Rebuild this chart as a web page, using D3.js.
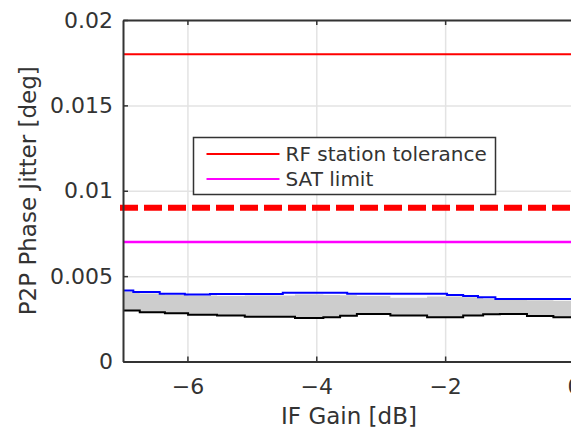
<!DOCTYPE html>
<html lang="en">
<head>
    <meta charset="UTF-8">
    <title>P2P Phase Jitter</title>
    <script src="https://cdn.jsdelivr.net/npm/d3@7/dist/d3.min.js"></script>
    <style>
        body { margin: 0; background: #fff; }
        text { font-family: "DejaVu Sans", sans-serif; fill: #333; }
    </style>
</head>
<body>
<svg id="main" width="571" height="430"></svg>
<script>
    // --- data (y in deg) ---
    let xTicks = [-6, -4, -2, 0];
    let yTicks = [0, 0.005, 0.01, 0.015, 0.02];
    let yTickLabels = ['0', '0.005', '0.01', '0.015', '0.02'];

    let rfTolerance = 0.018;     // solid red
    let rfDashed = 0.009;        // dashed red
    let satLimit = 0.007;        // magenta

    // blue upper envelope
    let blueGain = [-7.0, -6.84, -6.43, -6.04, -5.65, -4.52, -3.52, -1.97, -1.72, -1.49, -1.22, 0];
    let blueJitter = [0.00416, 0.00407, 0.00397, 0.00393, 0.00395, 0.00403, 0.00397, 0.00389, 0.00384, 0.00376, 0.00366, 0.00364];

    // black lower envelope + grey band top
    let blackGain = [-7.0, -6.74, -6.35, -5.99, -5.54, -5.11, -4.33, -3.89, -3.63, -3.37, -2.85, -2.28, -1.72, -1.41, -1.15, -0.73, -0.32, 0];
    let blackJitter = [0.00298, 0.00288, 0.00282, 0.00274, 0.00270, 0.00262, 0.00255, 0.00259, 0.00268, 0.00278, 0.00270, 0.00259, 0.00270, 0.00276, 0.00278, 0.00266, 0.00259, 0.00259];
    let bandTop = [0.00408, 0.00398, 0.00390, 0.00386, 0.00384, 0.00386, 0.00392, 0.00390, 0.00388, 0.00384, 0.00374, 0.00380, 0.00376, 0.00368, 0.00360, 0.00358, 0.00356, 0.00356];

    let legendItems = [
        {name: 'RF station tolerance', color: '#ff0000'},
        {name: 'SAT limit', color: '#ff00ff'}
    ];

    let svg = d3.select('svg#main');
    let plotLeft = 123, plotRight = 574, plotTop = 20, plotBottom = 361.5;

    let x = d3.scaleLinear().domain([-7, 0]).range([plotLeft, plotRight]);
    let y = d3.scaleLinear().domain([0, 0.02]).range([plotBottom, plotTop]);

    // grid
    svg.append('g')
        .attr('transform', 'translate(0,' + plotBottom + ')')
        .call(d3.axisBottom(x).tickValues(xTicks).tickSize(-(plotBottom - plotTop)).tickFormat(''))
        .call(g => g.select('.domain').remove())
        .selectAll('line').attr('stroke', '#e3e3e3').attr('stroke-width', 1.5);
    svg.append('g')
        .attr('transform', 'translate(' + plotLeft + ',0)')
        .call(d3.axisLeft(y).tickValues(yTicks).tickSize(-(plotRight - plotLeft)).tickFormat(''))
        .call(g => g.select('.domain').remove())
        .selectAll('line').attr('stroke', '#e3e3e3').attr('stroke-width', 1.5);

    // grey band
    let band = blackGain.map((g, i) => ({g: g, lo: blackJitter[i], hi: bandTop[i]}));
    svg.append('path')
        .datum(band)
        .attr('fill', '#cdcdcd')
        .attr('d', d3.area().curve(d3.curveStepAfter)
            .x(d => x(d.g)).y0(d => y(d.lo)).y1(d => y(d.hi)));

    let stepLine = d3.line().curve(d3.curveStepAfter).x(d => x(d[0])).y(d => y(d[1]));

    svg.append('path')
        .datum(d3.zip(blueGain, blueJitter))
        .attr('fill', 'none').attr('stroke', '#0000ff').attr('stroke-width', 2)
        .attr('d', stepLine);
    svg.append('path')
        .datum(d3.zip(blackGain, blackJitter))
        .attr('fill', 'none').attr('stroke', '#000').attr('stroke-width', 2)
        .attr('d', stepLine);

    // limit lines
    let flat = v => [[-7, v], [0, v]];
    let straight = d3.line().x(d => x(d[0])).y(d => y(d[1]));
    svg.append('path').datum(flat(rfTolerance))
        .attr('fill', 'none').attr('stroke', '#ff0000').attr('stroke-width', 2)
        .attr('d', straight);
    svg.append('path').datum(flat(rfDashed))
        .attr('fill', 'none').attr('stroke', '#ff0000').attr('stroke-width', 6)
        .attr('stroke-dasharray', '12,12').attr('stroke-linecap', 'square')
        .attr('d', straight);
    svg.append('path').datum(flat(satLimit))
        .attr('fill', 'none').attr('stroke', '#ff00ff').attr('stroke-width', 2.5)
        .attr('d', straight);

    // axes
    let styleAxis = g => {
        g.select('.domain').attr('stroke', '#333').attr('stroke-width', 2);
        g.selectAll('.tick line').attr('stroke', '#333').attr('stroke-width', 1.5);
        g.selectAll('text').attr('fill', '#333').style('font-size', '22px').style('font-family', '"DejaVu Sans", sans-serif');
    };
    svg.append('g')
        .attr('transform', 'translate(0,' + plotBottom + ')')
        .call(d3.axisBottom(x).tickValues(xTicks).tickSize(-5).tickSizeOuter(0).tickPadding(17)
            .tickFormat(d => d === 0 ? '0' : '\u2212' + Math.abs(d)))
        .call(styleAxis);
    svg.append('g')
        .attr('transform', 'translate(0,' + plotTop + ')')
        .call(d3.axisTop(x).tickValues(xTicks).tickSize(-5).tickSizeOuter(0).tickFormat(''))
        .call(styleAxis);
    svg.append('g')
        .attr('transform', 'translate(' + plotLeft + ',0)')
        .call(d3.axisLeft(y).tickValues(yTicks).tickSize(-5).tickSizeOuter(0).tickPadding(10)
            .tickFormat((d, i) => yTickLabels[i]))
        .call(styleAxis);

    // axis titles
    svg.append('text')
        .attr('x', 349).attr('y', 424)
        .attr('text-anchor', 'middle')
        .style('font-size', '23px')
        .text('IF Gain [dB]');
    svg.append('text')
        .attr('transform', 'translate(36,' + ((plotTop + plotBottom) / 2) + ') rotate(-90)')
        .attr('text-anchor', 'middle')
        .style('font-size', '23px')
        .text('P2P Phase Jitter [deg]');

    // legend
    let legend = svg.append('g').attr('transform', 'translate(193.5,137.5)');
    legend.append('rect')
        .attr('width', 302).attr('height', 57)
        .attr('fill', '#fff').attr('stroke', '#333').attr('stroke-width', 1.5);
    let entry = legend.selectAll('.lineLegend').data(legendItems)
        .enter().append('g')
        .attr('class', 'lineLegend')
        .attr('transform', (d, i) => 'translate(0,' + (16.5 + i * 25) + ')');
    entry.append('line')
        .attr('x1', 13).attr('x2', 86)
        .attr('stroke', d => d.color).attr('stroke-width', 2);
    entry.append('text')
        .attr('x', 92).attr('dy', '0.36em')
        .style('font-size', '20px')
        .text(d => d.name);
</script>
</body>
</html>
